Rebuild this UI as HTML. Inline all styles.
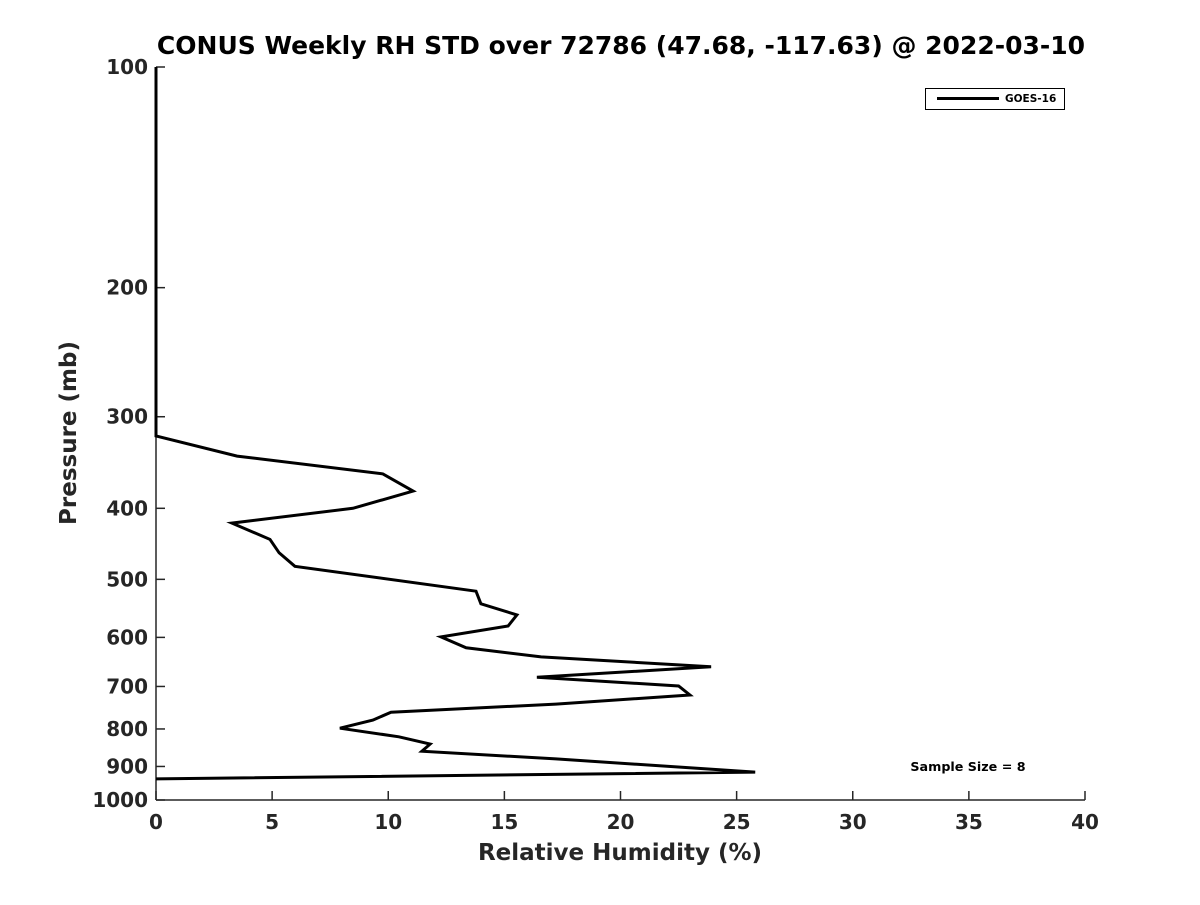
<!DOCTYPE html>
<html><head><meta charset="utf-8"><style>
body{margin:0;background:#fff;}
svg text{font-family:"DejaVu Sans","Liberation Sans",sans-serif;font-weight:bold;fill:#262626;}
</style></head><body>
<svg id="chart" width="1200" height="900">
<text x="621" y="54" text-anchor="middle" font-size="25" style="fill:#000">CONUS Weekly RH STD over 72786 (47.68, -117.63) @ 2022-03-10</text>
<g id="axes"></g>
<text x="620" y="860" text-anchor="middle" font-size="23">Relative Humidity (%)</text>
<text transform="translate(76,433) rotate(-90)" text-anchor="middle" font-size="23">Pressure (mb)</text>
<g>
<rect x="925.5" y="88.5" width="139" height="21" fill="#fff" stroke="#000" stroke-width="1"/>
<line x1="937" y1="98.5" x2="999" y2="98.5" stroke="#000" stroke-width="3"/>
<text x="1005" y="102" font-size="10.5" style="fill:#000">GOES-16</text>
</g>
<text x="968" y="771" text-anchor="middle" font-size="12.7" style="fill:#000">Sample Size = 8</text>
</svg>
<script>
const rhValues=[0,0,3.49,9.77,11.07,8.48,3.27,4.91,5.3,5.98,13.78,13.99,15.54,15.16,12.27,13.35,16.58,23.9,16.4,22.5,22.99,17.22,10.12,9.34,7.92,10.46,11.8,11.45,17.22,25.8,0];
const pressures=[100,318.6,339.5,359,379,400,419,441,460,480,519,540,559,579,599,620,638,658,680,699,719,740,759,778,798,820,839,858,879,916,936];
const xTicks=[0,5,10,15,20,25,30,35,40];
const yTicks=[100,200,300,400,500,600,700,800,900,1000];
const NS='http://www.w3.org/2000/svg';
const X0=156,X1=1085,Y0=67,Y1=800;
const xs=v=>X0+(v/40)*(X1-X0);
const ys=p=>Y0+Math.log10(p/100)*(Y1-Y0);
const svg=document.getElementById('chart');const g=document.getElementById('axes');
function mk(t,a,parent){const e=document.createElementNS(NS,t);for(const k in a)e.setAttribute(k,a[k]);(parent||g).appendChild(e);return e;}
const yl=mk('line',{x1:X0,y1:Y0,x2:X0,y2:Y1,stroke:'#262626','stroke-width':1.5});


const xl=mk('line',{x1:X0,y1:Y1,x2:X1,y2:Y1,stroke:'#262626','stroke-width':1.5});


xTicks.forEach(v=>{const x=xs(v);
mk('line',{x1:x,y1:Y1,x2:x,y2:Y1-9,stroke:'#262626','stroke-width':1.5});
const t=mk('text',{x:x,y:Y1+29,'text-anchor':'middle','font-size':20});t.textContent=v;

});
yTicks.forEach(p=>{const y=ys(p);
mk('line',{x1:X0,y1:y,x2:X0+9,y2:y,stroke:'#262626','stroke-width':1.5});
const t=mk('text',{x:X0-8,y:y+7,'text-anchor':'end','font-size':20});t.textContent=p;

});
const d=rhValues.map((v,i)=>(i?'L':'M')+xs(v).toFixed(1)+','+ys(pressures[i]).toFixed(1)).join('');
const path=mk('path',{d:d,fill:'none',stroke:'#000','stroke-width':3,'stroke-linejoin':'miter'},svg);


</script>
</body></html>
